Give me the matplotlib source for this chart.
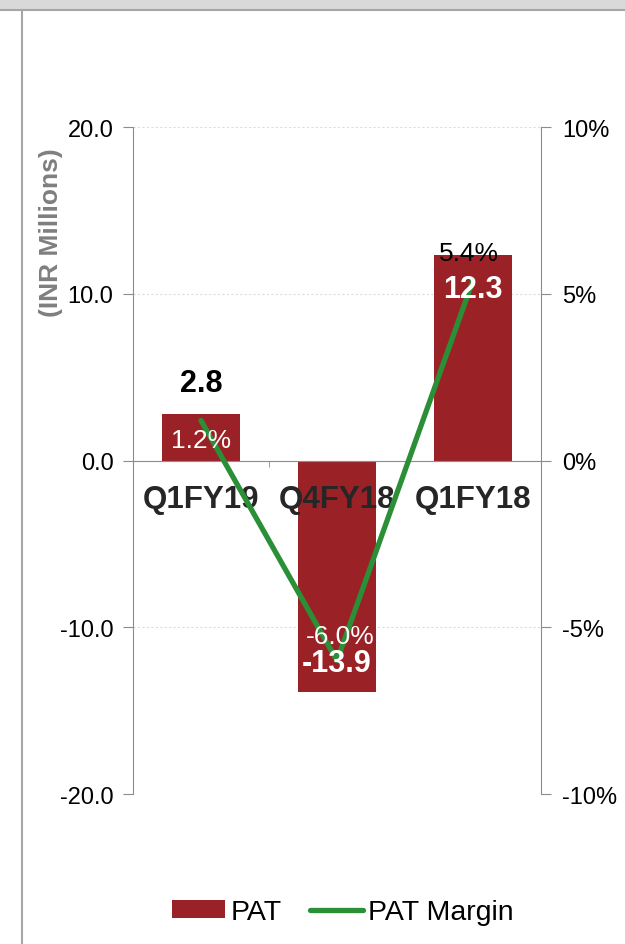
import matplotlib
matplotlib.use("Agg")
import matplotlib.pyplot as plt
from matplotlib.patches import Rectangle, Patch
from matplotlib.lines import Line2D
from matplotlib.ticker import FuncFormatter, FixedLocator

plt.rcParams['font.family'] = ['Liberation Sans', 'DejaVu Sans']

# datos
quarters = ['Q1FY19', 'Q4FY18', 'Q1FY18']
pat = [2.8, -13.9, 12.3]
pat_margin = [1.2, -6.0, 5.4]

bar_color = '#9a2226'
line_color = '#2a8f37'
gray = '#8c8c8c'

fig = plt.figure(figsize=(6.25, 9.45), dpi=100)

# marco gris de la diapositiva
fig.add_artist(Rectangle((0, 1 - 10 / 945), 1, 10 / 945, transform=fig.transFigure,
                         facecolor='#d9d9d9', edgecolor='none'))
fig.add_artist(Line2D([0, 1], [1 - 11 / 945] * 2, transform=fig.transFigure,
                      color='#a6a6a6', lw=1.5))
fig.add_artist(Line2D([21.5 / 625] * 2, [0, 1 - 11 / 945], transform=fig.transFigure,
                      color='#a6a6a6', lw=1.5))

ax = fig.add_axes([133 / 625, 1 - 795 / 945, 408 / 625, 667 / 945])
x = list(range(len(quarters)))
ax.bar(x, pat, width=0.57, color=bar_color, zorder=2)
ax.set_xlim(-0.5, 2.5)
ax.set_ylim(-20, 20)
ax.set_yticks([-20, -10, 0, 10, 20])
ax.yaxis.set_major_formatter(FuncFormatter(lambda v, p: f'{v:.1f}'))
ax.yaxis.grid(True, color='#dcdcdc', linestyle=(0, (2, 2)), lw=0.8, zorder=0)

for s in ['top', 'right']:
    ax.spines[s].set_visible(False)
ax.spines['left'].set_color(gray)
ax.spines['bottom'].set_color(gray)
ax.spines['bottom'].set_position(('data', 0))
ax.spines['bottom'].set_zorder(3)

ax.tick_params(axis='y', direction='out', length=7, color=gray, labelsize=17, pad=7)
ax.set_xticks(x)
ax.set_xticklabels(quarters, fontsize=22.5, fontweight='bold', color='#262626')
ax.tick_params(axis='x', which='major', length=0, pad=17)
ax.xaxis.set_minor_locator(FixedLocator([0.5, 1.5]))
ax.tick_params(axis='x', which='minor', length=4, color=gray, direction='out')
ax.xaxis.set_zorder(3)  # etiquetas de categoria encima de las barras

fig.text(51 / 625, 1 - 233 / 945, '(INR Millions)', rotation=90, ha='center', va='center',
         fontsize=19, fontweight='bold', color='#7f7f7f')

ax2 = ax.twinx()
ax2.plot(x, pat_margin, color=line_color, lw=3.8, solid_capstyle='round', zorder=3)
ax2.set_ylim(-10, 10)
ax2.set_yticks([-10, -5, 0, 5, 10])
ax2.yaxis.set_major_formatter(FuncFormatter(lambda v, p: f'{v:.0f}%'))
for s in ['top', 'left', 'bottom']:
    ax2.spines[s].set_visible(False)
ax2.spines['right'].set_color(gray)
ax2.tick_params(axis='y', direction='out', length=7, color=gray, labelsize=17, pad=8)

# etiquetas de PAT (en ax2 para quedar encima de la linea)
ax2.annotate('2.8', (0, pat[0]), xycoords=ax.transData, xytext=(0, 22), textcoords='offset points',
             ha='center', va='center', fontsize=22, fontweight='bold', color='black', zorder=5)
ax2.annotate('-13.9', (1, pat[1]), xycoords=ax.transData, xytext=(0, 21), textcoords='offset points',
             ha='center', va='center', fontsize=22, fontweight='bold', color='white', zorder=5)
ax2.annotate('12.3', (2, pat[2]), xycoords=ax.transData, xytext=(0, -24), textcoords='offset points',
             ha='center', va='center', fontsize=22, fontweight='bold', color='white', zorder=5)

# etiquetas de margen
ax2.annotate('1.2%', (0, pat_margin[0]), xytext=(0, -14), textcoords='offset points',
             ha='center', va='center', fontsize=19, color='white', zorder=5)
ax2.annotate('-6.0%', (1, pat_margin[1]), xytext=(2, 18), textcoords='offset points',
             ha='center', va='center', fontsize=19, color='white', zorder=5)
ax2.annotate('5.4%', (2, pat_margin[2]), xytext=(-3, 20), textcoords='offset points',
             ha='center', va='center', fontsize=19, color='black', zorder=5)

handles = [Patch(facecolor=bar_color, edgecolor='none'),
           Line2D([0], [0], color=line_color, lw=3.8, solid_capstyle='round')]
fig.legend(handles, ['PAT', 'PAT Margin'], loc='center', ncol=2,
           bbox_to_anchor=(343 / 625, 1 - 913 / 945), frameon=False, fontsize=20.5,
           handlelength=1.85, handletextpad=0.2, columnspacing=1.0, handleheight=0.55)

fig.savefig('out.png', dpi=100)
